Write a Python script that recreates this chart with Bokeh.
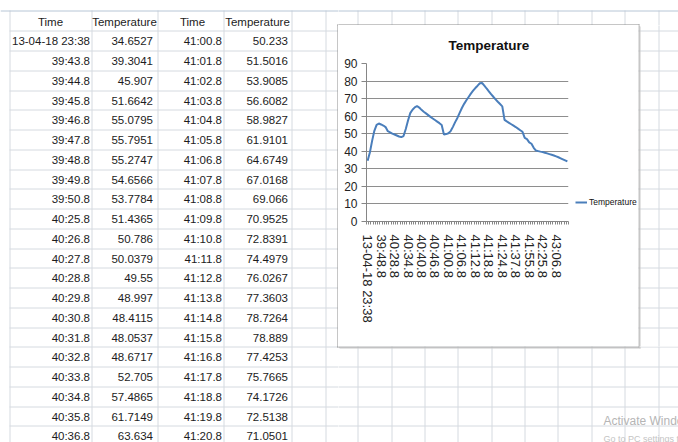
from bokeh.plotting import figure
from bokeh.models import Range1d, ColumnDataSource, FixedTicker, Legend, LegendItem
from bokeh.layouts import row, column
from bokeh.core.properties import value
from bokeh.embed import file_html
from bokeh.resources import INLINE

# ---------------- data ----------------
times_a = ["13-04-18 23:38", "39:43.8", "39:44.8", "39:45.8", "39:46.8", "39:47.8",
           "39:48.8", "39:49.8", "39:50.8", "40:25.8", "40:26.8", "40:27.8", "40:28.8",
           "40:29.8", "40:30.8", "40:31.8", "40:32.8", "40:33.8", "40:34.8", "40:35.8",
           "40:36.8"]
temps_a = [34.6527, 39.3041, 45.907, 51.6642, 55.0795, 55.7951, 55.2747, 54.6566,
           53.7784, 51.4365, 50.786, 50.0379, 49.55, 48.997, 48.4115, 48.0537, 48.6717,
           52.705, 57.4865, 61.7149, 63.634]
times_b = ["41:00.8", "41:01.8", "41:02.8", "41:03.8", "41:04.8", "41:05.8", "41:06.8",
           "41:07.8", "41:08.8", "41:09.8", "41:10.8", "41:11.8", "41:12.8", "41:13.8",
           "41:14.8", "41:15.8", "41:16.8", "41:17.8", "41:18.8", "41:19.8", "41:20.8"]
temps_b = [50.233, 51.5016, 53.9085, 56.6082, 58.9827, 61.9101, 64.6749, 67.0168,
           69.066, 70.9525, 72.8391, 74.4979, 76.0267, 77.3603, 78.7264, 78.889,
           77.4253, 75.7665, 74.1726, 72.5138, 71.0501]
# rows not visible in the sheet
temps_mid = [65.0, 65.8, 64.9, 63.6, 62.5, 61.6, 60.6, 59.6, 58.7, 57.8, 56.9, 56.0,
             55.0, 49.6, 49.8]
temps_end = [69.6, 68.2, 66.9, 65.6, 57.9, 57.0, 56.2, 55.4, 54.6, 53.8, 52.9, 52.0,
             51.1, 47.6, 46.9, 45.1, 44.3, 42.0, 40.4, 40.1, 39.8, 39.6, 39.2, 38.8,
             38.4, 38.0, 37.6, 37.1, 36.6, 36.0, 35.4, 34.8, 34.2]
axis_labels = ["13-04-18 23:38", "39:48.8", "40:28.8", "40:34.8", "40:40.8", "40:46.8",
               "41:00.8", "41:06.8", "41:12.8", "41:18.8", "41:24.8", "41:37.8",
               "41:55.8", "42:25.8", "43:06.8"]
label_step = 6
y_ticks = [0, 10, 20, 30, 40, 50, 60, 70, 80, 90]
headers = ["Time", "Temperature", "Time", "Temperature"]
series_name = "Temperature"

# ---------------- styling ----------------
FONT = "Liberation Sans"
GRID = "#d5dae0"
TXT = "#1c1c1c"
FS = "11.5px"
LINE_COLOR = "#4a7ebb"

col_lines = [9, 91, 157, 223, 291, 325, 357, 391, 424, 457, 491, 524, 557, 591, 624, 658]
ROW0, ROWH = 40.8, 19.75


def sheet(x0, x1, y0, y1, table=False, watermark=False):
    f = figure(width=x1 - x0, height=y1 - y0, x_range=Range1d(x0, x1),
               y_range=Range1d(y1, y0), toolbar_location=None, output_backend="svg",
               min_border=0, outline_line_color=None, background_fill_color="white",
               border_fill_color="white", frame_align=False)
    f.axis.visible = False
    f.grid.visible = False
    # grid lines
    hy = [int(ROW0 + ROWH * k + ROWH / 2) + 0.5 for k in range(-1, 22)]
    f.segment(x0=[9] * len(hy), x1=[678] * len(hy), y0=hy, y1=hy,
              line_color=GRID, line_width=1)
    vx = [c + 0.5 for c in col_lines]
    f.segment(x0=vx, x1=vx, y0=[10] * len(vx), y1=[442] * len(vx),
              line_color=GRID, line_width=1)
    f.segment(x0=[0], x1=[678], y0=[10.5], y1=[10.5], line_color="#b7c6d6", line_width=1)
    # chart box border + shadow
    f.segment(x0=[337.5, 337, 638.5, 337], x1=[337.5, 639, 638.5, 639],
              y0=[24, 24.5, 24, 346.5], y1=[347, 24.5, 347, 346.5],
              line_color="#8c8c8c", line_width=1)
    f.segment(x0=[639.5, 339], x1=[639.5, 640], y0=[26, 347.5], y1=[348, 347.5],
              line_color="#c9c9c9", line_width=1)
    if table:
        hdr_x = [50, 124, 192, 257]
        f.text(x=hdr_x, y=[ROW0 - ROWH] * 4, text=headers, text_align="center",
               text_baseline="middle", text_font=value(FONT), text_font_size=FS,
               text_color=TXT)
        ys = [ROW0 + ROWH * k for k in range(len(times_a))]
        f.text(x=[89.5] * len(ys), y=ys, text=times_a, text_align="right",
               text_baseline="middle", text_font=value(FONT), text_font_size=FS,
               text_color=TXT)
        f.text(x=[152.5] * len(ys), y=ys, text=[str(v) for v in temps_a],
               text_align="right", text_baseline="middle", text_font=value(FONT),
               text_font_size=FS, text_color=TXT)
        f.text(x=[221.5] * len(ys), y=ys, text=times_b, text_align="right",
               text_baseline="middle", text_font=value(FONT), text_font_size=FS,
               text_color=TXT)
        f.text(x=[287.5] * len(ys), y=ys, text=[str(v) for v in temps_b],
               text_align="right", text_baseline="middle", text_font=value(FONT),
               text_font_size=FS, text_color=TXT)
    if watermark:
        f.text(x=[603], y=[420], text=["Activate Windows"], text_align="left",
               text_baseline="middle", text_font=value(FONT), text_font_size="12px",
               text_color="#b5b5b5")
        f.text(x=[603], y=[438], text=["Go to PC settings to activate Windows."],
               text_align="left", text_baseline="middle", text_font=value(FONT),
               text_font_size="9px", text_color="#c4c4c4")
    return f


# ---------------- chart ----------------
series = temps_a + temps_mid + temps_b + temps_end
src = ColumnDataSource(dict(i=list(range(len(series))), t=series))

c = figure(width=233, height=321, x_range=Range1d(-0.5, len(series) - 0.5),
           y_range=Range1d(0, 90), toolbar_location=None, output_backend="svg",
           min_border_left=28, min_border_right=3, min_border_top=37,
           min_border_bottom=125, outline_line_color=None,
           background_fill_color="white", border_fill_color="white")
r = c.line("i", "t", source=src, line_color=LINE_COLOR, line_width=2)

c.title.text = series_name
c.title.align = "left"
c.title.offset = 82
c.title.standoff = 21
c.title.text_font = FONT
c.title.text_font_size = "13.5px"
c.title.text_font_style = "bold"
c.title.text_color = "#111111"

c.ygrid.ticker = FixedTicker(ticks=y_ticks)
c.ygrid.grid_line_color = "#8e8e8e"
c.xgrid.visible = False
c.yaxis.ticker = FixedTicker(ticks=y_ticks)
c.yaxis.axis_line_color = "#868686"
c.yaxis.major_tick_line_color = "#868686"
c.yaxis.major_tick_out = 5
c.yaxis.major_tick_in = 0
c.yaxis.minor_tick_line_color = None
c.yaxis.major_label_standoff = 4
c.yaxis.major_label_text_font = FONT
c.yaxis.major_label_text_font_size = "12px"
c.yaxis.major_label_text_color = "#222222"

label_ticks = [k * label_step for k in range(len(axis_labels))]
c.xaxis.ticker = FixedTicker(ticks=label_ticks,
                             minor_ticks=[k - 0.5 for k in range(len(series) + 1)])
c.xaxis.major_label_overrides = {t: lab for t, lab in zip(label_ticks, axis_labels)}
c.xaxis.major_label_orientation = "vertical"
c.xaxis.axis_line_color = "#868686"
c.xaxis.major_tick_line_color = None
c.xaxis.major_tick_out = 0
c.xaxis.major_tick_in = 0
c.xaxis.minor_tick_line_color = "#868686"
c.xaxis.minor_tick_out = 3
c.xaxis.minor_tick_in = 0
c.xaxis.major_label_standoff = 10
c.xaxis.major_label_text_font = FONT
c.xaxis.major_label_text_font_size = "13px"
c.xaxis.major_label_text_color = "#222222"

# legend panel (right part of the chart box); its frame is aligned with the
# chart's frame. The key line uses the same series, which lies outside this
# panel's view so only the legend shows.
lg = figure(width=67, height=321, x_range=Range1d(0, 1), y_range=Range1d(0, 1),
            toolbar_location=None, output_backend="svg", min_border=0,
            outline_line_color=None, background_fill_color="white",
            border_fill_color="white")
lg.axis.visible = False
lg.grid.visible = False
key = lg.line("i", "t", source=src, line_color=LINE_COLOR, line_width=2)
leg = Legend(items=[LegendItem(label=series_name, renderers=[key])],
             location="bottom_left", border_line_color=None, background_fill_alpha=0,
             padding=0, margin=4, spacing=0, glyph_width=12, glyph_height=30,
             label_standoff=2, label_text_font=FONT, label_text_font_size="8.5px",
             label_text_color="#111111", label_height=30)
lg.add_layout(leg)

# ---------------- layout ----------------
left = sheet(0, 338, 0, 442, table=True)
top = sheet(338, 678, 0, 25)
right = sheet(638, 678, 25, 346)
bottom = sheet(338, 678, 346, 442, watermark=True)

p = row(left, column(top, row(c, lg, right), bottom))

open("out.html", "w").write(file_html(p, INLINE))
